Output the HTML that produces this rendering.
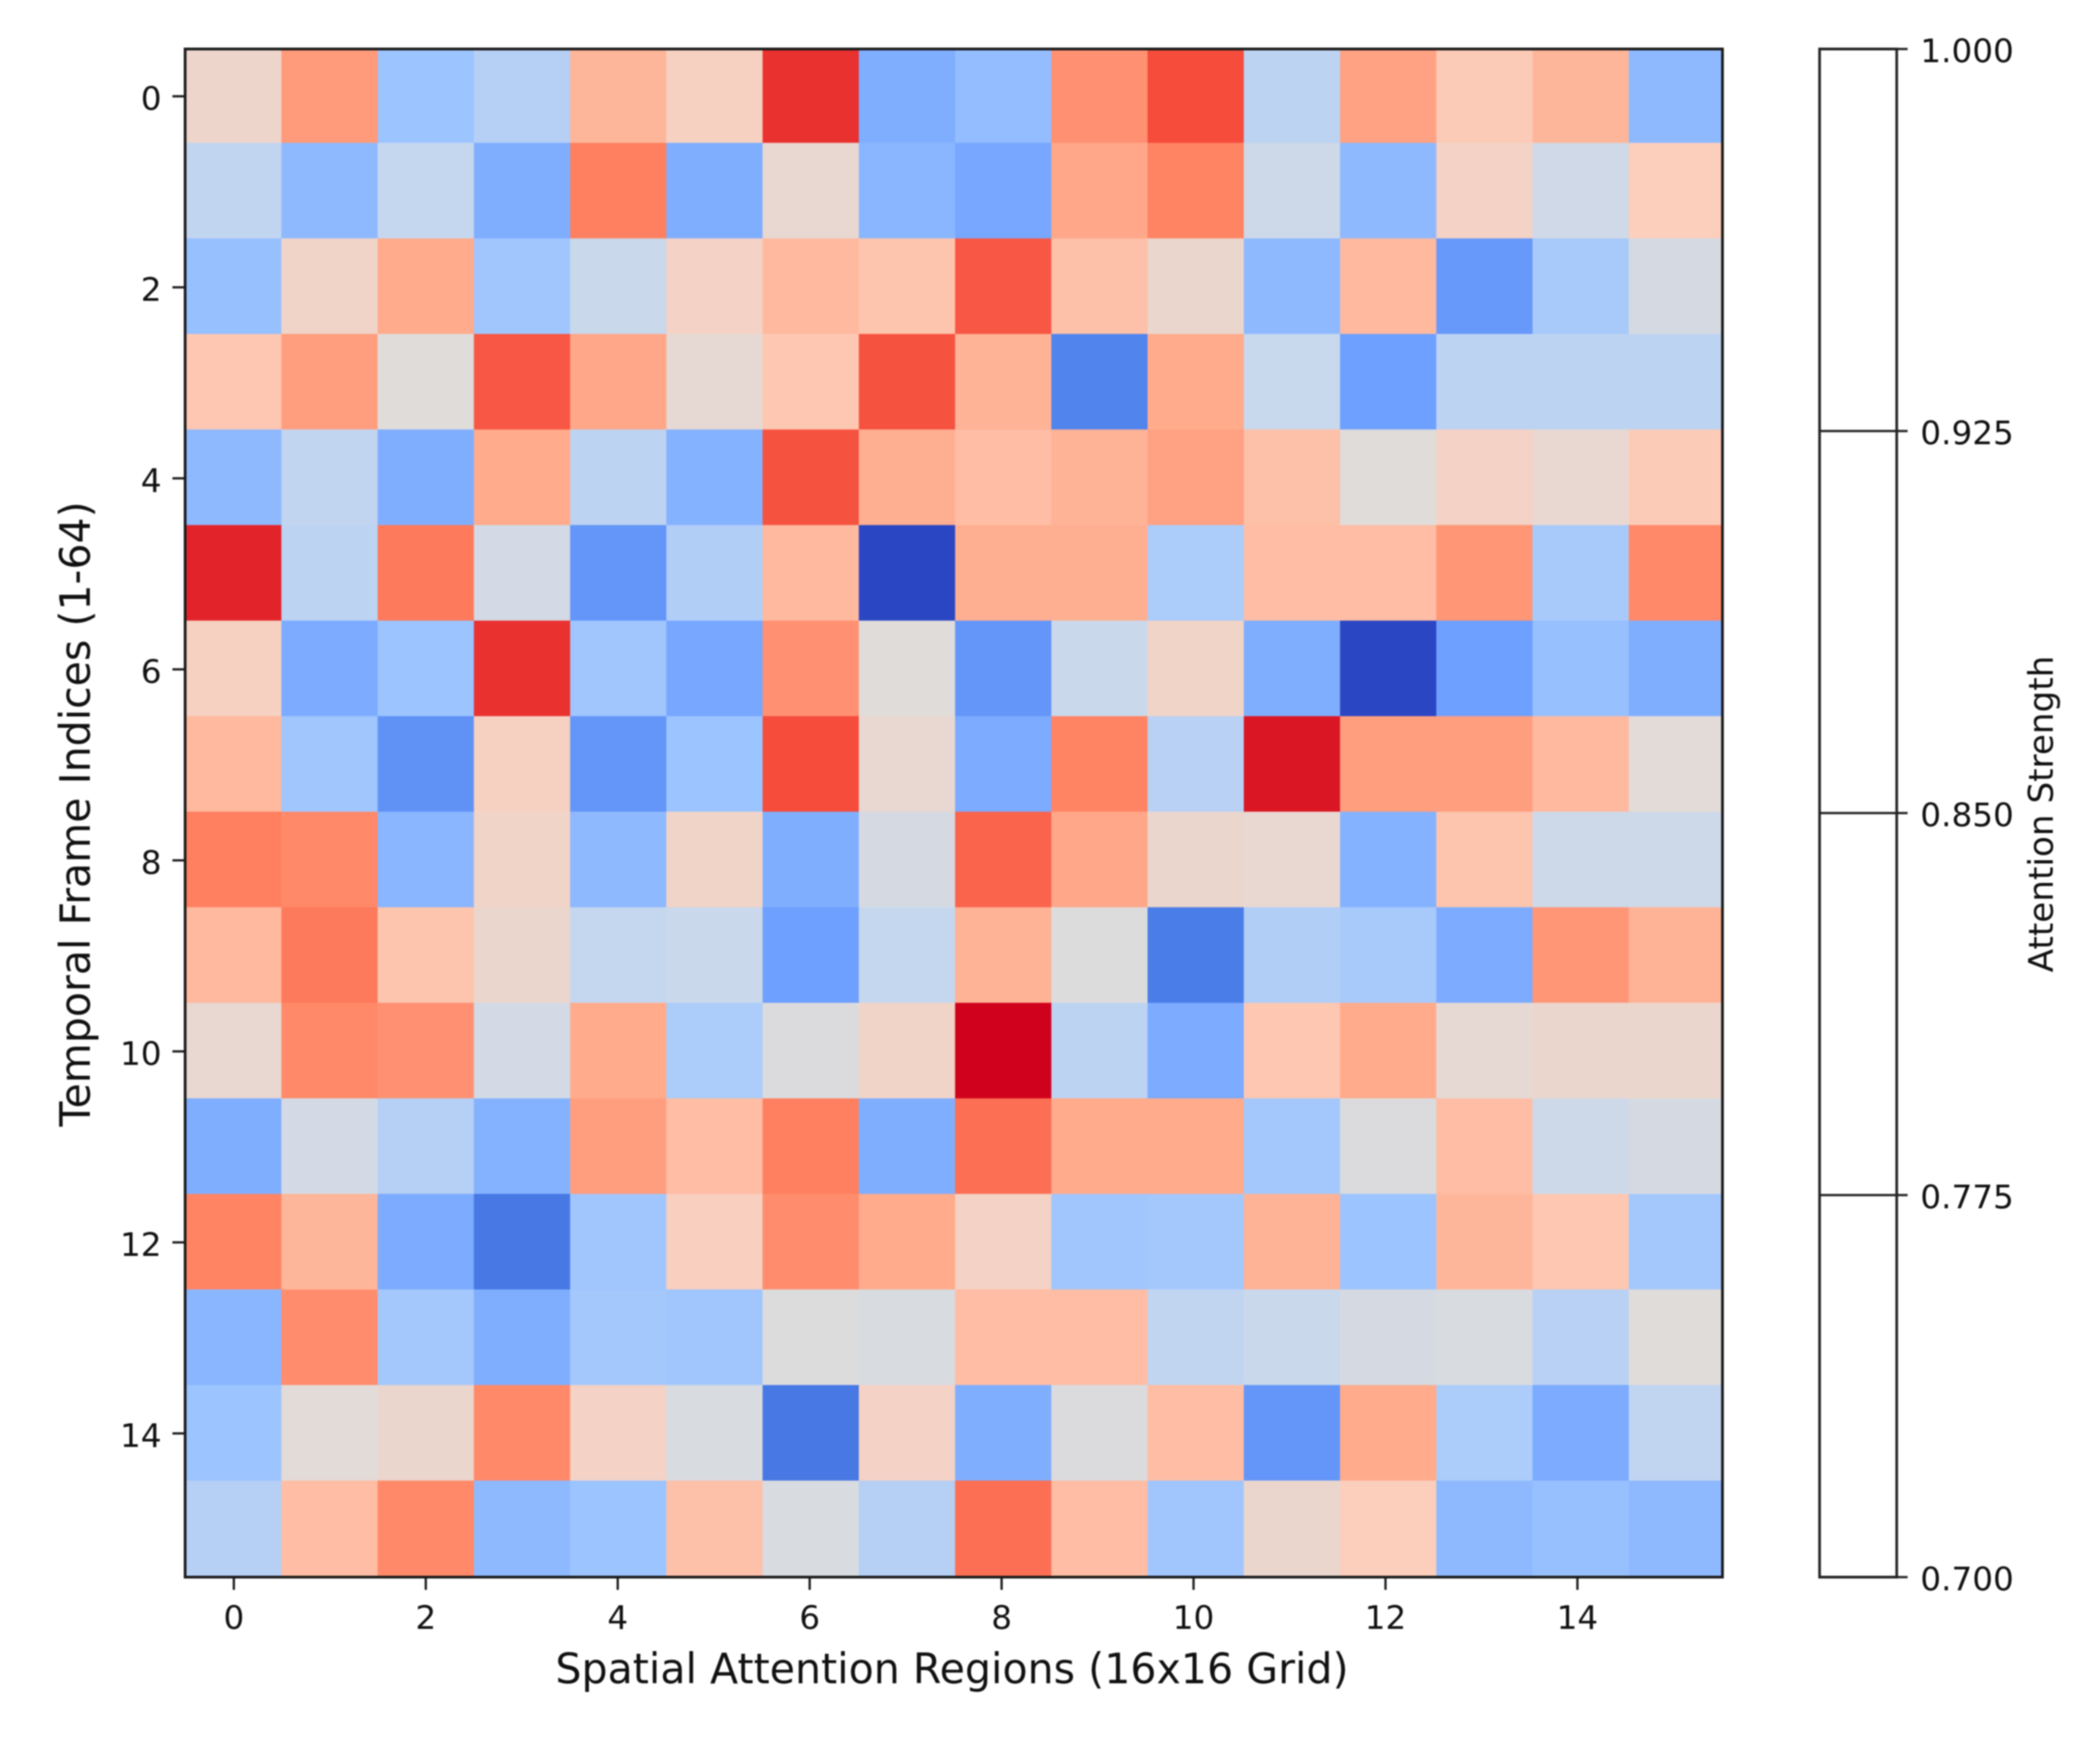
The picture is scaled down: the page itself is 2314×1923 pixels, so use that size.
<!DOCTYPE html>
<html lang="en">
<head>
<meta charset="utf-8">
<title>Spatio-temporal attention heatmap</title>
<style>
html,body{margin:0;padding:0;background:#fff;width:2314px;height:1923px;overflow:hidden}
svg{display:block;filter:blur(.7px)}
text{font-family:"DejaVu Sans","Liberation Sans",sans-serif;fill:#111}
</style>
</head>
<body>
<svg id="chart" xmlns="http://www.w3.org/2000/svg" width="2314" height="1923" viewBox="0 0 2314 1923">
  <rect x="0" y="0" width="2314" height="1923" fill="#ffffff"/>
  <defs><clipPath id="plot-clip"><rect x="204" y="54" width="1694" height="1684"/></clipPath></defs>
  <g id="cells" clip-path="url(#plot-clip)"></g>
  <rect x="204" y="54" width="1694" height="1684" fill="none" stroke="#1a1a1a" stroke-width="3"/>
  <g id="x-ticks"></g>
  <g id="y-ticks"></g>
  <text x="1049" y="1855" font-size="46" text-anchor="middle" textLength="874" lengthAdjust="spacingAndGlyphs">Spatial Attention Regions (16x16 Grid)</text>
  <text transform="translate(99 897) rotate(-90)" font-size="46" text-anchor="middle" textLength="689" lengthAdjust="spacingAndGlyphs">Temporal Frame Indices (1-64)</text>
  <rect x="2005" y="54" width="85" height="1684" fill="#ffffff" stroke="#2a2a2a" stroke-width="3"/>
  <g id="cbar-ticks"></g>
  <text transform="translate(2262 897) rotate(-90)" font-size="37" text-anchor="middle" textLength="349" lengthAdjust="spacingAndGlyphs">Attention Strength</text>
</svg>
<script>
const frameIndices = [0,1,2,3,4,5,6,7,8,9,10,11,12,13,14,15];
const regionIndices = [0,1,2,3,4,5,6,7,8,9,10,11,12,13,14,15];
const xTickLabels = [0,2,4,6,8,10,12,14];
const yTickLabels = [0,2,4,6,8,10,12,14];
const colorbarTickValues = [1.0,0.925,0.85,0.775,0.7];
const attentionRow0  = [.55,.74,.30,.36,.67,.58,.93,.24,.28,.76,.89,.38,.72,.61,.67,.27];
const attentionRow1  = [.39,.27,.40,.24,.80,.24,.53,.26,.22,.71,.79,.43,.27,.57,.44,.60];
const attentionRow2  = [.29,.56,.70,.31,.42,.57,.66,.63,.87,.64,.54,.27,.66,.18,.33,.46];
const attentionRow3  = [.62,.73,.50,.87,.71,.52,.62,.88,.68,.12,.70,.41,.20,.38,.38,.38];
const attentionRow4  = [.27,.39,.24,.70,.38,.25,.88,.69,.65,.68,.72,.64,.50,.57,.53,.61];
const attentionRow5  = [.95,.38,.81,.45,.17,.35,.66,.00,.69,.69,.34,.65,.65,.75,.33,.78];
const attentionRow6  = [.58,.23,.30,.93,.31,.22,.76,.50,.17,.42,.56,.24,.00,.20,.29,.24];
const attentionRow7  = [.66,.31,.16,.58,.17,.30,.89,.53,.23,.79,.37,.97,.73,.73,.66,.51];
const attentionRow8  = [.80,.78,.26,.56,.27,.56,.24,.46,.85,.71,.54,.53,.25,.63,.43,.43];
const attentionRow9  = [.66,.81,.63,.54,.40,.42,.20,.40,.68,.49,.10,.35,.33,.23,.75,.68];
const attentionRow10 = [.53,.78,.76,.45,.70,.34,.48,.56,1.0,.38,.23,.62,.70,.52,.54,.54];
const attentionRow11 = [.24,.45,.36,.25,.73,.65,.80,.24,.83,.70,.70,.32,.48,.65,.43,.46];
const attentionRow12 = [.79,.67,.23,.09,.31,.59,.77,.70,.57,.31,.32,.68,.30,.67,.62,.32];
const attentionRow13 = [.26,.77,.32,.24,.32,.31,.49,.47,.65,.65,.39,.42,.46,.47,.37,.50];
const attentionRow14 = [.30,.51,.54,.78,.57,.47,.09,.57,.24,.48,.65,.17,.70,.34,.23,.39];
const attentionRow15 = [.36,.65,.78,.27,.30,.64,.47,.36,.83,.65,.31,.54,.60,.27,.29,.27];
const attentionRows = [attentionRow0,attentionRow1,attentionRow2,attentionRow3,attentionRow4,attentionRow5,attentionRow6,attentionRow7,attentionRow8,attentionRow9,attentionRow10,attentionRow11,attentionRow12,attentionRow13,attentionRow14,attentionRow15];

const NS = 'http://www.w3.org/2000/svg';
const cellW = 106.05, cellH = 105.3, originX = 204, originY = 52.1;
const xLeft = i => originX + i * cellW;
const yTop = j => originY + j * cellH;
const xTickPos = i => 204 + (i + 0.5) * 105.75 + 0.8;
const yTickPos = j => 54 + (j + 0.5) * (1684 / 16) - 0.5;
const cbarY = v => 1738 - (v - 0.7) / 0.3 * 1684;

const ramp = [[43,70,195],[74,125,232],[110,160,255],[156,196,255],[197,215,239],[224,220,218],[252,206,188],[255,171,140],[255,128,96],[244,70,56],[208,1,28]];
function colour(t) {
  const p = Math.max(0, Math.min(1, t)) * (ramp.length - 1);
  const a = Math.min(Math.floor(p), ramp.length - 2), f = p - a;
  const c = ramp[a].map((v, k) => Math.round(v + (ramp[a + 1][k] - v) * f));
  return 'rgb(' + c.join(',') + ')';
}
function svgEl(tag, attrs) {
  const el = document.createElementNS(NS, tag);
  for (const k in attrs) el.setAttribute(k, attrs[k]);
  return el;
}

const cells = document.getElementById('cells');
frameIndices.forEach(function (row, j) {
  regionIndices.forEach(function (col, i) {
    const cell = svgEl('rect', {x: xLeft(i), y: yTop(j), width: cellW + 0.4, height: cellH + 0.4, fill: colour(attentionRows[row][col])});
    
    
    cells.appendChild(cell);
  });
});

const xTicks = document.getElementById('x-ticks');
xTickLabels.forEach(function (v) {
  const x = xTickPos(v);
  const tick = svgEl('line', {x1: x, x2: x, y1: 1738, y2: 1752, stroke: '#1a1a1a', 'stroke-width': 2.5});
  
  
  xTicks.appendChild(tick);
  const label = svgEl('text', {x: x, y: 1795, 'font-size': 36, 'text-anchor': 'middle'});
  
  
  label.textContent = v;
  xTicks.appendChild(label);
});

const yTicks = document.getElementById('y-ticks');
yTickLabels.forEach(function (v) {
  const y = yTickPos(v);
  const tick = svgEl('line', {x1: 190, x2: 204, y1: y, y2: y, stroke: '#1a1a1a', 'stroke-width': 2.5});
  
  
  yTicks.appendChild(tick);
  const label = svgEl('text', {x: 178, y: y + 15, 'font-size': 36, 'text-anchor': 'end'});
  
  
  label.textContent = v;
  yTicks.appendChild(label);
});

const cbarTicks = document.getElementById('cbar-ticks');
colorbarTickValues.forEach(function (v) {
  const y = cbarY(v);
  const tick = svgEl('line', {x1: 2005, x2: 2102, y1: y, y2: y, stroke: '#222', 'stroke-width': 2.5});
  
  
  cbarTicks.appendChild(tick);
  const label = svgEl('text', {x: 2116, y: y + 14.5, 'font-size': 36});
  
  
  label.textContent = v.toFixed(3);
  cbarTicks.appendChild(label);
});
</script>
</body>
</html>
